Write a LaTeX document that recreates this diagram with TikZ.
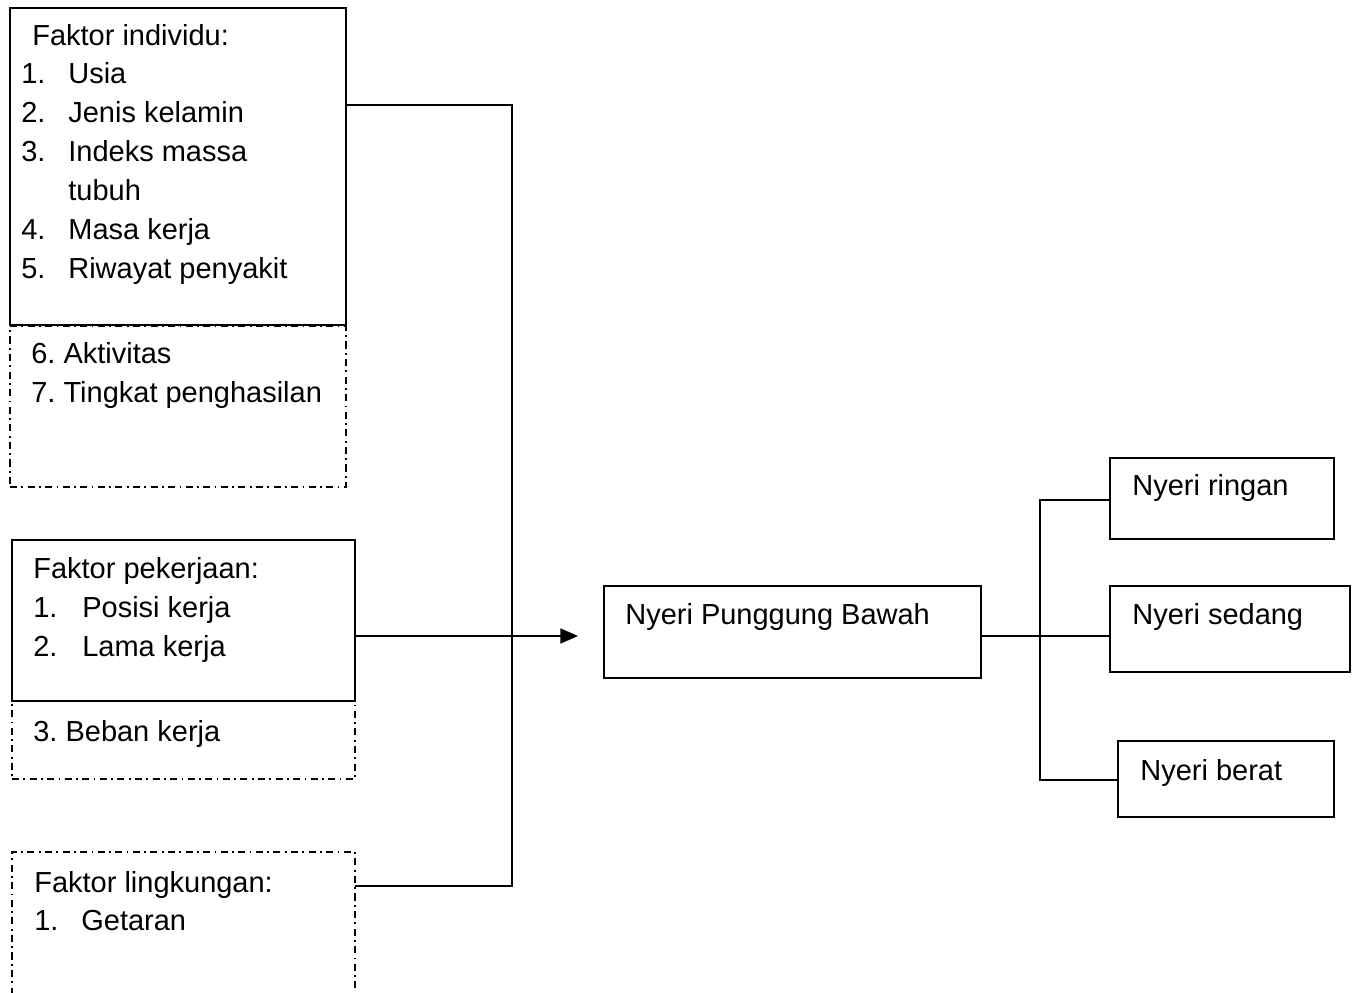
\documentclass[tikz,border=0pt]{standalone}
\usepackage{fontspec}
\setmainfont{Liberation Sans}
\frenchspacing
\usetikzlibrary{arrows.meta}
\tikzset{
   solidbox/.style={draw, line width=1.1pt, rectangle, anchor=north west, inner sep=0pt, outer sep=0pt},
   dashbox/.style={draw, line width=1.1pt, dash pattern=on 4pt off 2.5pt on 1pt off 2.5pt, rectangle, anchor=north west, inner sep=0pt, outer sep=0pt},
   txt/.style={anchor=base west, inner sep=0pt, font=\fontsize{16.5}{20}\selectfont},
   link/.style={line width=1.1pt},
}
\begin{document}
\begin{tikzpicture}[x=0.02cm, y=-0.02cm]
   \useasboundingbox (0,0) rectangle (1357,993);
   \clip (0,0) rectangle (1357,993);
   % dash-dot boxes (left)
   \node[dashbox, minimum width=6.72cm, minimum height=3.22cm] (indivx) at (10,326) {};
   \node[dashbox, minimum width=6.86cm, minimum height=1.56cm] (kerjax) at (12,701) {};
   \node[dashbox, minimum width=6.86cm, minimum height=3.6cm] (lingk) at (12,852) {};
   % solid boxes (left)
   \node[solidbox, minimum width=6.72cm, minimum height=6.34cm] (indiv) at (10,8) {};
   \node[solidbox, minimum width=6.86cm, minimum height=3.22cm] (kerja) at (12,540) {};
   % centre and right boxes
   \node[solidbox, minimum width=7.54cm, minimum height=1.84cm] (nyeri) at (604,586) {};
   \node[solidbox, minimum width=4.48cm, minimum height=1.62cm] (ringan) at (1110,458) {};
   \node[solidbox, minimum width=4.8cm, minimum height=1.72cm] (sedang) at (1110,586) {};
   \node[solidbox, minimum width=4.32cm, minimum height=1.52cm] (berat) at (1118,741) {};

   % faktor individu
   \node[txt] (indivt) at (32,46) {Faktor individu:};
   \foreach \n/\t/\y in {1/Usia/84, 2/Jenis kelamin/123, 3/Indeks massa/162, 4/Masa kerja/240, 5/Riwayat penyakit/279} {
      \node[txt] (indivn\n) at (21,\y) {\n.};
      \node[txt] (indivi\n) at (68,\y) {\t};
   }
   \node[txt] (indivi3b) at (68,201) {tubuh};
   \node[txt] (indivi6) at (31,364) {6. Aktivitas};
   \node[txt] (indivi7) at (31,403) {7. Tingkat penghasilan};
   % faktor pekerjaan
   \node[txt] (kerjat) at (33,578) {Faktor pekerjaan:};
   \foreach \n/\t/\y in {1/Posisi kerja/617, 2/Lama kerja/656} {
      \node[txt] (kerjan\n) at (33,\y) {\n.};
      \node[txt] (kerjai\n) at (82,\y) {\t};
   }
   \node[txt] (kerjai3) at (33,741) {3. Beban kerja};
   % faktor lingkungan
   \node[txt] (lingkt) at (34,892) {Faktor lingkungan:};
   \node[txt] (lingkn1) at (34,930) {1.};
   \node[txt] (lingki1) at (81,930) {Getaran};
   % right texts
   \node[txt] (nyerit) at (625,624) {Nyeri Punggung Bawah};
   \node[txt] (ringant) at (1132,496) {Nyeri ringan};
   \node[txt] (sedangt) at (1132,624) {Nyeri sedang};
   \node[txt] (beratt) at (1140,780) {Nyeri berat};

   % connectors
   \coordinate (jtop) at (512,105);
   \coordinate (jbot) at (512,886);
   \coordinate (arrowend) at (578,636);
   \draw[link] (jtop -| indiv.east) -- (jtop) -- (jbot) -- (jbot -| lingk.east);
   \draw[link, -{Triangle[length=10pt, width=8.5pt]}] (arrowend -| kerja.east) -- (arrowend);
   \coordinate (rmid) at (1040,636);
   \coordinate (rtop) at (1040,500);
   \coordinate (rbot) at (1040,780);
   \draw[link] (rmid -| nyeri.east) -- (rmid -| sedang.west);
   \draw[link] (ringan.west |- rtop) -- (rtop) -- (rbot) -- (berat.west |- rbot);
\end{tikzpicture}
\end{document}
